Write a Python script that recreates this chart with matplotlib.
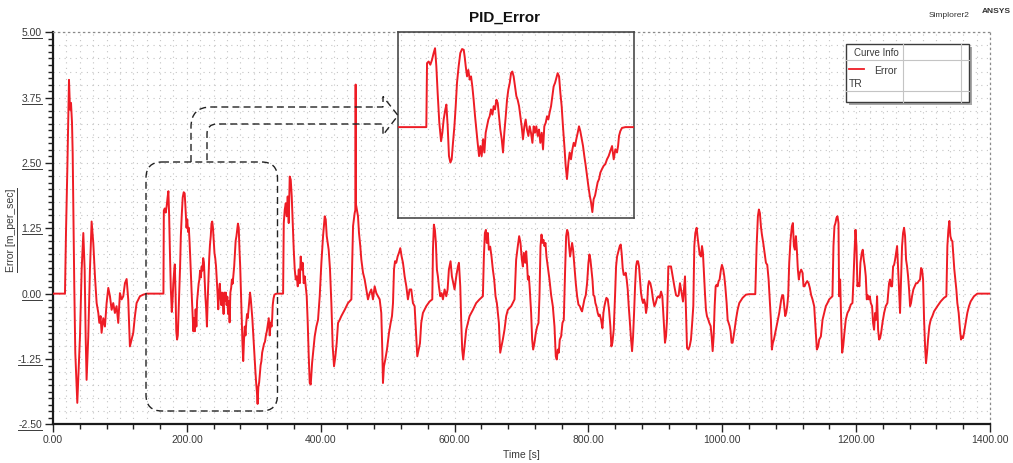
"""
pid_error.py

Redraw the Simplorer PID_Error transient with a zoomed inset.
"""

import matplotlib

matplotlib.use("Agg")

import matplotlib.pyplot as plt
from matplotlib.lines import Line2D
from matplotlib.patches import FancyBboxPatch, PathPatch, Rectangle
from matplotlib.path import Path
from matplotlib.ticker import FormatStrFormatter, MultipleLocator
from matplotlib.transforms import Affine2D, IdentityTransform

plt.rcParams["font.family"] = ["Liberation Sans", "DejaVu Sans"]

# ---- data (time in s, error in m_per_sec) ----
time_s = [
    0, 17.9, 19.4, 21.4, 23.9, 25.4, 26.9, 28.4, 29.4, 30.3, 31.8, 33.3, 36.3,
    38.3, 40.3, 42.8, 45.3, 47.3, 48.8, 50.2, 52.7, 55.2, 57.7, 60.2, 62.7,
    65.2, 67.7, 69.2, 71.1, 72.6, 75.1, 77.6, 80.1, 82.6, 85.1, 87.6, 90.0,
    92.5, 95.0, 97.5, 100.0, 102.5, 105.0, 107.5, 110.0, 112.4, 114.9, 117.4,
    119.9, 122.4, 124.9, 129.9, 134.8, 139.8,
    # zoomed window
    165.0, 165.6, 167.0, 168.4, 169.8, 171.2, 172.4, 173.5, 174.6, 176.0,
    177.5, 178.6, 179.7, 181.1, 182.0, 183.1, 184.2, 185.4, 186.5, 187.6,
    188.8, 189.9, 191.0, 192.4, 193.8, 195.3, 196.7, 197.5, 198.4, 199.5,
    200.6, 201.8, 202.9, 204.0, 205.1, 206.3, 207.4, 208.5, 209.7, 210.8,
    211.9, 213.1, 214.2, 215.3, 216.4, 217.6, 218.7, 219.8, 221.0, 222.1,
    223.2, 224.4, 225.5, 226.6, 227.7, 228.9, 230.0, 231.1, 232.3, 233.4,
    234.5, 235.7, 236.8, 237.9, 239.0, 240.2, 241.3, 242.4, 243.6, 244.7,
    245.8, 246.9, 248.1, 249.2, 250.3, 251.5, 252.6, 253.7, 254.9, 256.0,
    257.1, 258.2, 259.4, 260.5, 261.6, 262.8, 263.9, 265.0, 266.2, 267.3,
    268.4, 269.5, 270.7, 271.8, 272.9, 274.1, 275.2, 276.3, 277.5, 278.6,
    279.7, 280.8, 282.0, 283.1, 284.2, 285.4, 286.5, 287.6, 288.8, 289.9,
    291.0, 292.1, 293.3, 294.4, 295.5, 296.7, 297.8, 298.9, 300.1, 301.2,
    302.3, 303.5, 304.6, 305.7, 306.8, 308.0, 309.1, 310.2, 311.4, 312.5,
    313.9, 315.3, 316.7, 318.1, 319.5, 321.0, 322.4, 323.8, 325.2, 326.6,
    327.5, 328.3, 329.4, 330.8, 333.7, 343.8,
    # after the window
    344.8, 346.3, 347.8, 349.3, 350.7, 352.2, 353.7, 355.2, 356.7, 358.2,
    359.7, 361.2, 362.7, 364.2, 365.7, 367.2, 368.7, 370.1, 371.6, 373.1,
    374.6, 376.1, 377.6, 379.1, 380.6, 382.1, 383.6, 385.1, 387.1, 389.1,
    391.0, 393.5, 396.0, 398.5, 401.0, 403.5, 406.0, 407.5, 409.0, 410.4,
    411.9, 413.9, 415.9, 417.9, 419.9, 421.9, 423.9, 425.9, 428.4, 430.8,
    435.8, 440.8, 445.8,
    448.3, 450.7, 451.7, 452.2, 452.7, 453.2, 455.7, 457.2, 459.2, 460.7,
    463.2, 465.7, 468.2, 470.6, 473.1, 475.6, 478.1, 480.6, 483.1, 485.6,
    488.1, 490.5, 492.0, 493.0, 494.5, 496.5, 499.0, 502.0, 504.5, 506.5,
    508.0, 509.5, 511.0, 512.9, 514.9, 516.9, 518.9, 520.9, 522.9, 525.4,
    527.9, 530.3, 532.8, 535.3, 537.8, 540.3, 542.8, 544.3, 546.3, 548.3,
    550.2, 552.7, 557.7, 562.7, 566.7, 567.7, 569.1, 570.6, 572.1, 573.6,
    575.1, 576.6, 578.6, 580.6, 582.6, 585.1, 587.6, 589.6, 591.5, 594.0,
    596.0, 598.0, 600.0, 602.5, 605.0, 606.5, 608.5, 610.0, 611.4, 612.9,
    614.9, 617.4, 619.9, 622.4, 627.4, 632.3, 637.3, 642.3, 643.8, 645.3,
    646.8, 648.2, 649.7, 651.2, 653.2, 655.2, 657.2, 659.2, 661.2, 663.2,
    666.2, 668.2, 670.1, 672.1, 674.6, 677.1, 679.6, 684.6, 689.6,
    692.0, 694.5, 696.5, 698.5, 700.5, 702.0, 703.5, 705.5, 707.0, 708.5,
    709.5, 711.0, 712.4, 714.4, 715.9, 717.4, 719.4, 721.4, 723.4, 725.4,
    726.9, 728.4, 729.9, 731.4, 732.8, 734.3, 735.8, 737.3, 739.3, 741.8,
    744.3, 746.8, 749.3, 751.2, 752.7, 754.2, 755.7, 757.2, 759.2, 761.2,
    763.2, 765.2, 766.7, 768.2, 769.7, 771.1, 772.6, 774.1, 775.6, 777.1,
    779.1, 781.1, 783.1, 785.1, 787.1, 789.1, 790.5, 792.0, 794.0, 796.0,
    798.0, 800.0, 801.5, 803.0, 804.5, 806.0, 807.5, 809.0, 810.4, 811.9,
    813.9, 815.4, 816.9, 818.9, 820.9, 822.4, 823.9, 825.4, 826.9, 828.9,
    830.8, 832.8, 834.3, 835.8, 837.8, 839.8, 841.3, 842.8, 844.8, 846.8,
    848.3, 849.8, 851.2, 852.7, 854.2, 855.7, 857.2, 858.7, 860.2, 861.7,
    863.7, 865.2, 866.7, 868.2, 869.7, 871.2, 872.6, 874.1, 875.6, 877.1,
    878.6, 880.1, 881.6, 883.1, 884.6, 886.1, 887.6, 889.1, 890.5, 892.5,
    894.5, 896.5, 898.5, 900.5, 902.5, 904.5, 906.5, 908.5, 910.4, 912.4,
    914.4, 915.9, 917.4, 919.4,
    923.4, 925.9, 928.4, 930.9, 933.3, 934.8, 936.8, 938.3, 939.8, 941.3,
    942.8, 944.3, 945.8, 947.3, 949.3, 951.2, 953.2, 954.7, 956.7, 958.2,
    959.7, 961.7, 963.2, 964.7, 966.2, 968.2, 969.7, 971.1, 972.6, 974.1,
    975.6, 977.1, 979.1, 980.6, 982.6, 984.1, 985.6, 987.1, 988.6, 990.1,
    991.5, 993.0, 994.5, 996.0, 998.0, 999.5, 1001.5, 1003.0, 1004.5, 1006.5,
    1008.0, 1009.5, 1010.9, 1012.4, 1013.9, 1015.4, 1016.9, 1018.4, 1020.4,
    1022.9, 1025.4, 1030.4, 1035.3, 1040.3, 1049.3, 1051.3, 1053.2, 1054.7,
    1056.2, 1057.7, 1059.2, 1061.2, 1063.2, 1065.2, 1067.2, 1069.2, 1071.1,
    1072.6, 1074.1, 1075.6, 1077.1, 1079.1, 1081.1, 1083.1, 1085.1, 1086.6,
    1088.1, 1089.6, 1091.0, 1092.5, 1094.0, 1095.5, 1097.0, 1098.5, 1100.0,
    1102.0, 1104.0, 1105.5, 1107.0, 1108.5, 1110.0, 1111.4, 1112.9, 1114.4,
    1115.9, 1117.9, 1119.9, 1121.4, 1122.9, 1124.9, 1126.9, 1128.9, 1130.8,
    1132.8, 1134.8, 1137.3, 1139.8, 1141.3, 1143.3, 1144.8, 1147.3, 1149.8,
    1152.2, 1154.7, 1157.2, 1159.7, 1162.2, 1164.6, 1166.1, 1167.6, 1169.1,
    1170.6, 1172.1, 1173.6, 1174.6, 1176.1, 1177.6, 1179.1, 1180.6, 1182.5,
    1184.5, 1187.0, 1189.5, 1192.0, 1194.5, 1196.0, 1197.5, 1199.0, 1200.5,
    1201.9, 1203.4, 1204.9, 1206.4, 1208.4, 1209.9, 1211.4, 1212.9, 1214.4,
    1215.9, 1217.4, 1218.9, 1220.4, 1221.9, 1223.8, 1225.3, 1226.8, 1228.3,
    1229.8, 1231.3, 1232.8, 1234.3, 1235.8, 1237.3, 1239.3, 1241.8, 1244.2,
    1246.7, 1249.2, 1250.7, 1252.2, 1253.7, 1255.2, 1256.7, 1258.2, 1259.7,
    1261.2, 1262.6, 1264.1, 1265.6, 1267.1, 1268.6, 1270.1, 1271.6, 1273.1,
    1274.6, 1276.1, 1277.6, 1279.1, 1280.6, 1282.0, 1283.5, 1285.5, 1287.5,
    1289.5, 1291.5, 1293.5, 1295.5, 1297.0, 1298.5, 1300.0, 1301.5, 1303.0,
    1304.4, 1305.9, 1307.4, 1309.4, 1311.4, 1313.9, 1316.4, 1321.4, 1326.3,
    1331.3, 1334.8, 1336.3, 1337.8, 1339.3, 1340.8, 1342.3, 1343.8, 1345.3,
    1346.7, 1348.2, 1349.7, 1351.2, 1353.2, 1355.2, 1356.7, 1358.2, 1359.7,
    1361.2, 1363.7, 1366.1, 1368.6, 1371.1, 1376.1, 1381.1, 1386.1, 1400,
]
error = [
    0.0, 0.0, 1.16, 2.37, 4.09, 3.52, 3.65, 3.27, 2.69, 1.73, 0.14, -1.13, -2.09,
    -1.45, -0.82, 0.46, 1.16, 0.46, -0.82, -1.65, -0.82, 0.46, 1.38, 0.97, 0.33,
    -0.18, -0.37, -0.56, -0.43, -0.75, -0.47, -0.63, -0.18, 0.11, -0.05, -0.31, -0.18,
    -0.37, -0.24, -0.56, 0.01, -0.11, -0.05, 0.20, 0.28, -0.11, -1.01, -0.88,
    -0.75, -0.43, -0.18, -0.05, -0.02, 0.0,
    # zoomed window
    0.0, 1.59, 1.63, 1.55, 1.67, 1.84, 1.96, 1.51, 0.85, 0.11,
    -0.35, -0.14, 0.19, 0.44, 0.56, 0.02, -0.72, -0.88, -0.80, -0.39,
    0.02, 0.52, 1.10, 1.51, 1.84, 1.94, 1.92, 1.75, 1.51, 1.26,
    1.42, 1.18, 1.26, 1.01, 0.68, 0.27, -0.06, -0.39, -0.72, -0.47,
    -0.72, -0.30, -0.63, -0.14, 0.02, 0.19, 0.27, 0.44, 0.31, 0.52,
    0.44, 0.68, 0.60, 0.27, -0.06, -0.30, -0.63, -0.14, 0.27, 0.68,
    0.93, 1.10, 1.34, 1.38, 1.26, 1.01, 0.77, 0.68, 0.52, 0.27,
    0.02, -0.30, 0.02, 0.19, -0.06, -0.22, 0.02, -0.14, -0.39, 0.02,
    -0.14, 0.02, -0.22, -0.06, -0.39, -0.14, -0.55, 0.02, 0.11, 0.27,
    0.19, 0.36, 0.52, 0.77, 1.01, 1.10, 1.22, 1.34, 1.26, 0.85,
    0.52, 0.02, -0.47, -0.96, -1.29, -0.88, -0.63, -0.80, -0.55, -0.39,
    -0.47, -0.30, -0.14, 0.02, -0.10, -0.30, -0.47, -0.72, -0.96, -1.21,
    -1.46, -1.70, -1.87, -2.11, -1.79, -1.70, -1.54, -1.37, -1.29, -1.13,
    -1.04, -0.96, -0.92, -0.80, -0.72, -0.59, -0.47, -0.80, -0.55, -0.63,
    -0.47, -0.22, -0.10, -0.02, 0.0, 0.0,
    # after the window
    1.35, 1.61, 1.73, 1.48, 1.86, 1.35, 2.24, 2.18, 1.86, 1.35,
    0.84, 0.46, 0.27, 0.33, 0.14, 0.46, 0.20, 0.71, 0.46, 0.59,
    0.20, 0.33, 0.14, -0.05, -0.56, -1.20, -1.71, -1.74, -1.33, -1.07,
    -0.82, -0.63, -0.50, -0.05, 0.59, 1.10, 1.48, 1.42, 1.10, 0.97,
    0.84, 0.46, -0.18, -1.01, -1.39, -1.20, -0.94, -0.56, -0.50, -0.43,
    -0.31, -0.18, -0.11,
    1.29, 1.54, 1.60, 4.00, 1.70, 1.67, 1.48, 1.16, 0.90, 0.65,
    0.40, 0.27, 0.08, -0.11, 0.01, 0.08, -0.11, 0.14, 0.01, -0.05,
    -0.11, -0.37, -1.07, -1.71, -1.39, -1.26, -1.07, -0.75, -0.56, -0.43,
    -0.18, 0.46, 0.62, 0.59, 0.71, 0.78, 0.87, 0.71, 0.59, 0.33,
    0.14, -0.11, 0.08, 0.08, -0.18, -0.24, -0.82, -1.20, -1.07, -0.95,
    -0.56, -0.37, -0.24, -0.15, -0.11, 0.84, 1.32, 1.22, 0.97, 0.46,
    0.33, 0.14, -0.05, 0.01, -0.11, 0.08, -0.05, 0.08, 0.46, 0.62,
    0.33, 0.20, 0.08, 0.33, 0.52, 0.59, 0.14, -0.56, -1.07, -1.26,
    -1.01, -0.69, -0.56, -0.43, -0.31, -0.18, -0.11, -0.05, 0.71, 1.16,
    1.22, 0.97, 1.16, 0.84, 0.90, 0.71, 0.46, 0.27, -0.05, -0.18,
    -0.56, -1.13, -1.01, -0.88, -0.69, -0.43, -0.31, -0.24, -0.11,
    0.65, 0.91, 1.10, 0.97, 0.65, 0.52, 0.78, 0.59, 0.81, 0.52,
    0.27, 0.33, 0.08, -0.37, -0.88, -1.07, -0.94, -0.75, -0.63, -0.56,
    -0.03, 0.91, 1.13, 0.97, 1.03, 0.91, 0.97, 0.71, 0.52, 0.27,
    -0.03, -0.24, -0.63, -1.20, -1.26, -1.07, -1.13, -0.88, -0.82, -0.56,
    -0.50, 0.46, 1.10, 1.22, 1.16, 0.91, 0.71, 0.84, 0.97, 0.84,
    0.52, 0.20, -0.05, -0.21, -0.24, -0.31, -0.34, -0.24, -0.11, -0.03,
    0.20, 0.59, 0.75, 0.65, 0.46, 0.27, -0.03, -0.05, -0.18, -0.24,
    -0.37, -0.43, -0.40, -0.50, -0.66, -0.37, -0.24, -0.15, -0.08, -0.11,
    -0.31, -0.63, -1.01, -0.94, -0.69, -0.03, 0.52, 0.71, 0.81, 0.91,
    0.94, 0.75, 0.49, 0.36, 0.36, 0.40, 0.27, 0.08, -0.24, -0.50,
    -0.88, -1.10, -0.82, -0.37, 0.14, 0.52, 0.62, 0.62, 0.52, 0.27,
    0.01, -0.11, -0.18, -0.11, -0.18, -0.37, -0.24, 0.14, 0.24, 0.20,
    0.08, -0.11, -0.24, -0.18, -0.08, -0.05, -0.08, 0.04, -0.05, -0.50,
    -0.94, -0.82, -0.50, 0.52,
    0.52, 0.33, 0.14, -0.03, -0.05, -0.03, 0.20, 0.08, -0.05, -0.15,
    0.08, 0.33, -0.37, -1.04, -1.07, -1.01, -0.88, -0.62, -0.24, 0.91,
    1.16, 1.26, 1.07, 0.91, 0.75, 0.71, 0.91, 0.78, 0.40, 0.01,
    -0.31, -0.43, -0.50, -0.56, -0.62, -0.82, -1.10, -0.82, -0.24, 0.14,
    0.17, 0.14, 0.24, 0.27, 0.46, 0.55, 0.46, 0.33, 0.14, -0.18,
    -0.50, -0.56, -0.62, -0.72, -0.94, -0.94, -0.82, -0.69, -0.50,
    -0.31, -0.18, -0.08, -0.02, -0.01, -0.01, 0.91, 1.48, 1.61,
    1.54, 1.29, 1.13, 0.97, 0.78, 0.59, 0.55, 0.27, -0.18,
    -0.50, -1.07, -0.94, -0.88, -0.75, -0.62, -0.50, -0.37, -0.24,
    -0.11, -0.03, -0.03, -0.24, -0.43, -0.37, -0.24, -0.03, 0.59,
    1.03, 1.29, 1.35, 0.91, 0.84, 1.10, 0.84, 0.46, 0.27,
    0.40, 0.46, 0.40, 0.14, 0.14, 0.20, 0.24, 0.20, 0.11,
    -0.03, -0.11, -0.24, -0.75, -1.07, -1.01, -0.88, -0.82, -0.50,
    -0.37, -0.24, -0.18, -0.11, -0.08, -0.05, 0.91, 1.29, 1.35,
    1.45, 1.48, 1.35, -0.05, 0.27, -0.50, -1.13, -1.01, -0.75,
    -0.50, -0.37, -0.31, -0.21, -0.18, 0.27, 0.78, 1.22, 0.91,
    0.14, 0.20, 0.14, 0.59, 0.78, 0.84, 0.65, 0.52, 0.33,
    -0.11, -0.03, -0.11, -0.05, -0.18, -0.24, -0.56, -0.69, -0.37,
    -0.50, -0.05, -0.69, -0.88, -0.85, -0.75, -0.56, -0.37, -0.24,
    -0.18, 0.20, 0.27, 0.14, 0.14, 0.52, 0.55, 0.65, 0.78,
    0.91, 0.52, 0.08, -0.37, 0.27, 0.91, 1.16, 1.26, 1.10,
    0.65, 0.52, 0.33, 0.08, -0.24, -0.18, -0.05, 0.08, 0.14,
    0.20, 0.20, 0.24, 0.27, 0.49, 0.46, 0.27, -0.50, -1.01,
    -1.33, -1.13, -0.88, -0.62, -0.50, -0.43, -0.34, -0.24, -0.15,
    -0.08, -0.05, 0.91, 1.22, 1.39, 1.10, 1.03, 1.00, 0.71,
    0.46, 0.27, 0.08, -0.18, -0.37, -0.69, -0.88, -0.82, -0.85,
    -0.75, -0.56, -0.37, -0.24, -0.15, -0.05, 0.0, 0.0, 0.0,
]

x_ticks = [0, 200, 400, 600, 800, 1000, 1200, 1400]
y_ticks = [-2.50, -1.25, 0.00, 1.25, 2.50, 3.75, 5.00]
zoom_window = (141, 341)
zoom_range = (-2.25, 2.37)

RED = "#ee1c25"
GRID = "#c4c4c4"
TEXT = "#3a3a3a"
W, H = 1013, 463


def main():

    fig = plt.figure(figsize=(W / 100, H / 100), dpi=100)
    # pixel coords of the picture, origin top-left
    px = Affine2D().scale(1 / W, -1 / H).translate(0, 1) + fig.transFigure

    ax = fig.add_axes([53 / W, 1 - 424.3 / H, 937 / W, 392 / H])
    ax.plot(time_s, error, color=RED, lw=1.4, zorder=3)
    ax.set_xlim(0, 1400)
    ax.set_ylim(-2.5, 5.0)

    # dotted screen grid: every 20 s and every 0.25
    for x in range(20, 1400, 20):
        ax.axvline(x, color=GRID, lw=0.8, ls=(0, (1, 4)), zorder=0)
    for i in range(1, 30):
        ax.axhline(-2.5 + 0.25 * i, color=GRID, lw=0.8, ls=(0, (1, 4)), zorder=0)

    ax.set_xticks(x_ticks)
    ax.xaxis.set_minor_locator(MultipleLocator(40))
    ax.set_yticks(y_ticks)
    ax.yaxis.set_minor_locator(MultipleLocator(0.125))
    ax.xaxis.set_major_formatter(FormatStrFormatter("%.2f"))
    ax.yaxis.set_major_formatter(FormatStrFormatter("%.2f"))
    ax.tick_params(which="major", length=6, width=1, color="#222",
                   labelsize=7.5, labelcolor=TEXT, pad=2)
    ax.tick_params(which="minor", length=3.5, width=1, color="#222")

    for side in ("left", "bottom"):
        ax.spines[side].set_linewidth(1.6)
        ax.spines[side].set_color("#1a1a1a")
    for side in ("top", "right"):
        ax.spines[side].set_linestyle((0, (1, 3)))
        ax.spines[side].set_color("#8a8a8a")
        ax.spines[side].set_linewidth(0.9)

    # axis titles and header texts
    fig.text(521, 455, "Time [s]", transform=px, ha="center", va="center",
             fontsize=7.5, color=TEXT)
    ylab = fig.text(11, 230, "Error [m_per_sec]", transform=px, rotation=90,
                    ha="center", va="center", fontsize=7.5, color=TEXT)
    fig.text(505, 18, "PID_Error", transform=px, ha="center", va="center",
             fontsize=11, fontweight="bold", color="#111")
    fig.text(949, 15.5, "Simplorer2", transform=px, ha="center", va="center",
             fontsize=6, color="#333")
    fig.text(996, 11.5, "ANSYS", transform=px, ha="center", va="center",
             fontsize=6, fontweight="bold", color="#333")

    # dashed selection box and the fat dashed arrow to the inset
    fig.add_artist(FancyBboxPatch(
        (146, 162), 131.5, 249, boxstyle="round,pad=0,rounding_size=16",
        transform=px, fill=False, ec="#222", lw=1, ls=(0, (5, 3)),
    ))
    verts = [(191, 162), (191, 127), (191, 107), (211, 107), (383, 107),
             (383, 96.5), (398, 115.5), (383, 135), (383, 124), (217, 124),
             (207, 124), (207, 134), (207, 162)]
    codes = [Path.MOVETO, Path.LINETO, Path.CURVE3, Path.CURVE3, Path.LINETO,
             Path.LINETO, Path.LINETO, Path.LINETO, Path.LINETO, Path.LINETO,
             Path.CURVE3, Path.CURVE3, Path.LINETO]
    fig.add_artist(PathPatch(Path(verts, codes), transform=px, fill=False,
                             ec="#222", lw=1, ls=(0, (5, 3))))

    # zoomed inset, transparent so the screen grid shows through
    ins = fig.add_axes([398 / W, 1 - 217.7 / H, 236 / W, 186 / H])
    ins.patch.set_alpha(0)
    ins.plot(time_s, error, color=RED, lw=1.4, zorder=3)
    ins.set_xlim(*zoom_window)
    ins.set_ylim(*zoom_range)
    ins.set_xticks([])
    ins.set_yticks([])
    for sp in ins.spines.values():
        sp.set_color("#4a4a4a")
        sp.set_linewidth(1.2)

    # "Curve Info" legend table
    fig.add_artist(Rectangle((849, 47), 123, 58, transform=px,
                             fc="#a8a8a8", ec="none"))
    fig.add_artist(Rectangle((846, 44), 123, 58, transform=px,
                             fc="white", ec="#3c3c3c", lw=1))
    for y in (60.3, 90.7):
        fig.add_artist(Line2D([846, 969], [y, y], transform=px,
                              color="#c4c4c4", lw=0.8))
    for x in (903.3, 960.7):
        fig.add_artist(Line2D([x, x], [44, 102], transform=px,
                              color="#c4c4c4", lw=0.8))
    fig.add_artist(Line2D([849, 864], [69.3, 69.3], transform=px,
                          color=RED, lw=1.3))
    fig.text(854, 53.5, "Curve Info", transform=px, va="center",
             fontsize=7, color=TEXT)
    fig.text(874, 70.5, "Error", transform=px, va="center",
             fontsize=7.5, color=TEXT)
    fig.text(848.5, 84, "TR", transform=px, va="center",
             fontsize=7.5, color=TEXT)

    # underline the y tick labels and the y label like the original
    fig.canvas.draw()
    for lab in ax.get_yticklabels():
        bb = lab.get_window_extent()
        fig.add_artist(Line2D([bb.x0, bb.x1], [bb.y0, bb.y0],
                              transform=IdentityTransform(),
                              color=TEXT, lw=0.7))
    bb = ylab.get_window_extent()
    fig.add_artist(Line2D([bb.x1 + 0.5, bb.x1 + 0.5], [bb.y0, bb.y1],
                          transform=IdentityTransform(), color=TEXT, lw=0.7))

    fig.savefig("out.png", dpi=100)
    plt.close(fig)


if __name__ == "__main__":
    main()
